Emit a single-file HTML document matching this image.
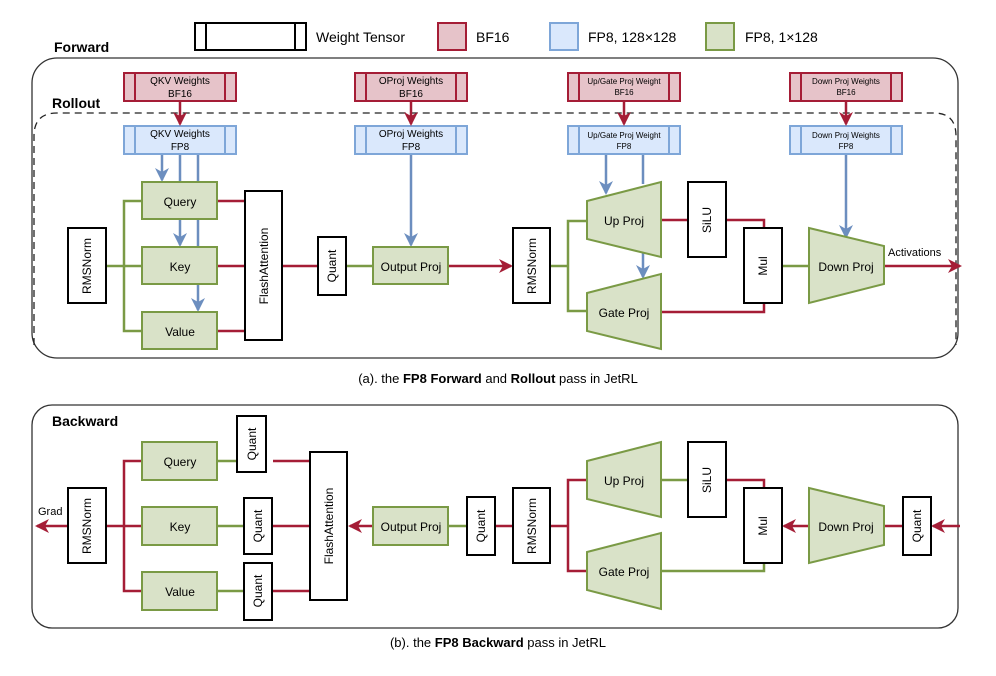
<!DOCTYPE html>
<html><head><meta charset="utf-8"><style>
html,body{margin:0;padding:0;background:#fff;}
svg{display:block;font-family:"Liberation Sans",sans-serif;}
</style></head><body>
<svg width="996" height="676" viewBox="0 0 996 676" xmlns="http://www.w3.org/2000/svg">
<defs>
<marker id="ar" markerWidth="14" markerHeight="14" refX="12" refY="7" orient="auto" markerUnits="userSpaceOnUse"><path d="M0,0 L14,7 L0,14 L4,7 Z" fill="#a51d36"/></marker>
<marker id="ab" markerWidth="14" markerHeight="14" refX="12" refY="7" orient="auto" markerUnits="userSpaceOnUse"><path d="M0,0 L14,7 L0,14 L4,7 Z" fill="#6c8ebf"/></marker>
</defs>
<g fill="none" stroke-width="2">
<rect x="195" y="23" width="111" height="27" stroke="#000"/>
<line x1="206" y1="23" x2="206" y2="50" stroke="#000"/><line x1="295" y1="23" x2="295" y2="50" stroke="#000"/>
<rect x="438" y="23" width="28" height="27" stroke="#a51d36" fill="#e6c3c9"/>
<rect x="550" y="23" width="28" height="27" stroke="#7ea6d8" fill="#dae8fc"/>
<rect x="706" y="23" width="28" height="27" stroke="#7a9a45" fill="#d9e2c8"/>
<rect x="32" y="58" width="926" height="300" rx="25" stroke="#333" stroke-width="1.3"/>
<path d="M34,345 L34,136 Q34,113 57,113 L934,113 Q956,113 956,136 L956,345" stroke="#222" stroke-width="1.3" stroke-dasharray="7,5"/>
<rect x="32" y="405" width="926" height="223" rx="20" stroke="#333" stroke-width="1.3"/>
</g>
<g font-size="14" fill="#000">
<text x="316" y="42">Weight Tensor</text>
<text x="476" y="42">BF16</text>
<text x="588" y="42">FP8, 128×128</text>
<text x="745" y="42">FP8, 1×128</text>
</g>
<g font-size="14" font-weight="bold"><text x="54" y="52">Forward</text><text x="52" y="108">Rollout</text><text x="52" y="426">Backward</text></g>
<g font-size="13" text-anchor="middle">
<text x="498" y="383">(a). the <tspan font-weight="bold">FP8 Forward</tspan> and <tspan font-weight="bold">Rollout</tspan> pass in JetRL</text>
<text x="498" y="647">(b). the <tspan font-weight="bold">FP8 Backward</tspan> pass in JetRL</text>
</g>

<g stroke-width="2">
<g stroke="#a51d36" fill="#e6c3c9">
<rect x="124" y="73" width="112" height="28"/><rect x="355" y="73" width="112" height="28"/><rect x="568" y="73" width="112" height="28"/><rect x="790" y="73" width="112" height="28"/>
<path d="M135,73V101M225,73V101M366,73V101M456,73V101M579,73V101M669,73V101M801,73V101M891,73V101"/>
</g>
<g stroke="#7ea6d8" fill="#dae8fc">
<rect x="124" y="126" width="112" height="28"/><rect x="355" y="126" width="112" height="28"/><rect x="568" y="126" width="112" height="28"/><rect x="790" y="126" width="112" height="28"/>
<path d="M135,126V154M225,126V154M366,126V154M456,126V154M579,126V154M669,126V154M801,126V154M891,126V154"/>
</g>
</g>
<g font-size="10" text-anchor="middle">
<text x="180" y="84">QKV Weights</text><text x="180" y="97">BF16</text>
<text x="411" y="84">OProj Weights</text><text x="411" y="97">BF16</text>
<text x="180" y="137">QKV Weights</text><text x="180" y="150">FP8</text>
<text x="411" y="137">OProj Weights</text><text x="411" y="150">FP8</text>
</g>
<g font-size="8" text-anchor="middle">
<text x="624" y="84">Up/Gate Proj Weight</text><text x="624" y="95">BF16</text>
<text x="846" y="84">Down Proj Weights</text><text x="846" y="95">BF16</text>
<text x="624" y="138">Up/Gate Proj Weight</text><text x="624" y="149">FP8</text>
<text x="846" y="138">Down Proj Weights</text><text x="846" y="149">FP8</text>
</g>

<g fill="none" stroke-width="2.5">
<g stroke="#a51d36">
<path d="M180,101V124" marker-end="url(#ar)"/>
<path d="M411,101V124" marker-end="url(#ar)"/>
<path d="M624,101V124" marker-end="url(#ar)"/>
<path d="M846,101V124" marker-end="url(#ar)"/>
<path d="M217,201H245M217,266H245M217,331H245M282,266H318"/>
<path d="M448,266H511" marker-end="url(#ar)"/>
<path d="M884,266H960" marker-end="url(#ar)"/>
<path d="M661,220H688M726,220H764V228M661,312H764V303"/>
</g>
<g stroke="#6c8ebf">
<path d="M162,155V180" marker-end="url(#ab)"/>
<path d="M180,155V182M198,155V182"/>
<path d="M180,219V245" marker-end="url(#ab)"/>
<path d="M198,219V247"/>
<path d="M198,284V310" marker-end="url(#ab)"/>
<path d="M411,155V245" marker-end="url(#ab)"/>
<path d="M606,155V193" marker-end="url(#ab)"/>
<path d="M643,155V184"/>
<path d="M643,250V277" marker-end="url(#ab)"/>
<path d="M846,155V237" marker-end="url(#ab)"/>
</g>
<g stroke="#7a9a45">
<path d="M106,266H124M142,201H124V331H142M124,266H142"/>
<path d="M346,266H373"/>
<path d="M550,266H568M587,221H568V311H587"/>
<path d="M782,266H809"/>
</g>
</g>

<g fill="none" stroke-width="2.5">
<g stroke="#a51d36">
<path d="M68,526H37" marker-end="url(#ar)"/>
<path d="M106,526H142M142,461H124V591H142"/>
<path d="M273,461H310M272,526H310M272,591H310"/>
<path d="M373,526H350" marker-end="url(#ar)"/>
<path d="M495,526H513M550,526H568M587,480H568V571H587"/>
<path d="M726,480H764V488"/>
<path d="M809,526H784" marker-end="url(#ar)"/>
<path d="M884,526H903"/>
<path d="M960,526H933" marker-end="url(#ar)"/>
</g>
<g stroke="#7a9a45">
<path d="M217,461H237M217,526H244M217,591H244M448,526H467M661,480H688M661,571H764V563"/>
</g>
</g>

<g stroke="#7a9a45" stroke-width="2" fill="#d9e2c8">
<rect x="142" y="182" width="75" height="37"/><rect x="142" y="247" width="75" height="37"/><rect x="142" y="312" width="75" height="37"/>
<rect x="373" y="247" width="75" height="37"/>
<polygon points="587,201 661,182 661,257 587,239"/>
<polygon points="587,293 661,274 661,349 587,331"/>
<polygon points="809,228 884,246 884,284 809,303"/>
<rect x="142" y="442" width="75" height="38"/><rect x="142" y="507" width="75" height="38"/><rect x="142" y="572" width="75" height="38"/>
<rect x="373" y="507" width="75" height="38"/>
<polygon points="587,461 661,442 661,517 587,499"/>
<polygon points="587,552 661,533 661,609 587,590"/>
<polygon points="809,488 884,506 884,545 809,563"/>
</g>
<g font-size="12" text-anchor="middle">
<text x="180" y="206">Query</text><text x="180" y="271">Key</text><text x="180" y="336">Value</text>
<text x="411" y="271">Output Proj</text>
<text x="624" y="225">Up Proj</text><text x="624" y="317">Gate Proj</text><text x="846" y="271">Down Proj</text>
<text x="180" y="466">Query</text><text x="180" y="531">Key</text><text x="180" y="596">Value</text>
<text x="411" y="531">Output Proj</text>
<text x="624" y="485">Up Proj</text><text x="624" y="576">Gate Proj</text><text x="846" y="531">Down Proj</text>
</g>
<text x="888" y="256" font-size="11">Activations</text>
<text x="38" y="515" font-size="11">Grad</text>

<g stroke="#000" stroke-width="2" fill="#fff">
<rect x="68" y="228" width="38" height="75"/><rect x="245" y="191" width="37" height="149"/><rect x="318" y="237" width="28" height="58"/>
<rect x="513" y="228" width="37" height="75"/><rect x="688" y="182" width="38" height="75"/><rect x="744" y="228" width="38" height="75"/>
<rect x="68" y="488" width="38" height="75"/><rect x="237" y="416" width="29" height="56"/><rect x="244" y="498" width="28" height="56"/><rect x="244" y="563" width="28" height="57"/>
<rect x="310" y="452" width="37" height="148"/><rect x="467" y="497" width="28" height="58"/><rect x="513" y="488" width="37" height="75"/>
<rect x="688" y="442" width="38" height="75"/><rect x="744" y="488" width="38" height="75"/><rect x="903" y="497" width="28" height="58"/>
</g>
<g font-size="12" text-anchor="middle">
<text transform="translate(91,266) rotate(-90)">RMSNorm</text>
<text transform="translate(268,266) rotate(-90)">FlashAttention</text>
<text transform="translate(336,266) rotate(-90)">Quant</text>
<text transform="translate(536,266) rotate(-90)">RMSNorm</text>
<text transform="translate(711,220) rotate(-90)">SiLU</text>
<text transform="translate(767,266) rotate(-90)">Mul</text>
<text transform="translate(91,526) rotate(-90)">RMSNorm</text>
<text transform="translate(256,444) rotate(-90)">Quant</text>
<text transform="translate(262,526) rotate(-90)">Quant</text>
<text transform="translate(262,591) rotate(-90)">Quant</text>
<text transform="translate(333,526) rotate(-90)">FlashAttention</text>
<text transform="translate(485,526) rotate(-90)">Quant</text>
<text transform="translate(536,526) rotate(-90)">RMSNorm</text>
<text transform="translate(711,480) rotate(-90)">SiLU</text>
<text transform="translate(767,526) rotate(-90)">Mul</text>
<text transform="translate(921,526) rotate(-90)">Quant</text>
</g>
</svg>
</body></html>
